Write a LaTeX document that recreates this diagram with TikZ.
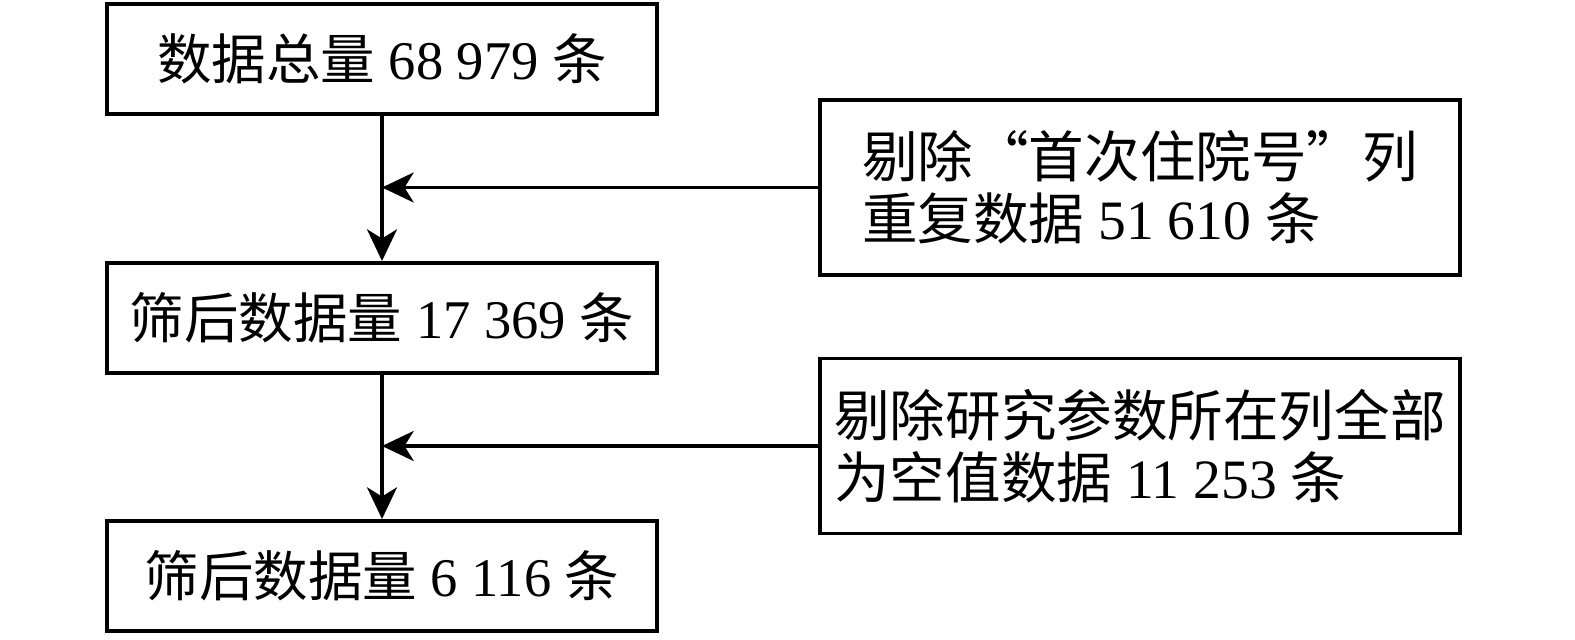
\documentclass[tikz,border=0pt]{standalone}
\usepackage{fontspec}
\setmainfont{Liberation Serif}
\newfontfamily\cjk{Noto Sans CJK SC}
\usetikzlibrary{arrows.meta}
\begin{document}
\begin{tikzpicture}[x=0.01cm,y=-0.01cm,
  box/.style={draw,line width=1.1pt,minimum width=5.5cm,minimum height=1.1cm,inner sep=0pt,
    font=\fontsize{15.5pt}{18pt}\selectfont},
  sidebox/.style={draw,line width=1.1pt,minimum width=6.4cm,minimum height=1.75cm,inner sep=0pt,
    align=left,font=\fontsize{15.8pt}{17.5pt}\selectfont},
  flow/.style={line width=1.1pt,-{Stealth[length=9pt,width=8.5pt,inset=2.6pt]}}]
\useasboundingbox (0,0) rectangle (1575,640);
\node[box] (b1) at (382,59) {{\cjk 数据总量} 68 979 {\cjk 条}};
\node[box] (b2) at (382,318) {{\cjk 筛后数据量} 17 369 {\cjk 条}};
\node[box] (b3) at (382,576) {{\cjk 筛后数据量} 6 116 {\cjk 条}};
\node[sidebox] (sa) at (1140,187.5) {{\cjk 剔除“首次住院号”列}\\{\cjk 重复数据} 51 610 {\cjk 条}};
\node[sidebox] (sb) at (1140,446) {{\cjk 剔除研究参数所在列全部}\\{\cjk 为空值数据} 11 253 {\cjk 条}};
\draw[flow] (b1) -- (b2);
\draw[flow] (b2) -- (b3);
\coordinate (ja) at (b1.south |- sa.west);
\coordinate (jb) at (b2.south |- sb.west);
\draw[flow] (sa.west) -- (ja);
\draw[flow] (sb.west) -- (jb);
\end{tikzpicture}
\end{document}
